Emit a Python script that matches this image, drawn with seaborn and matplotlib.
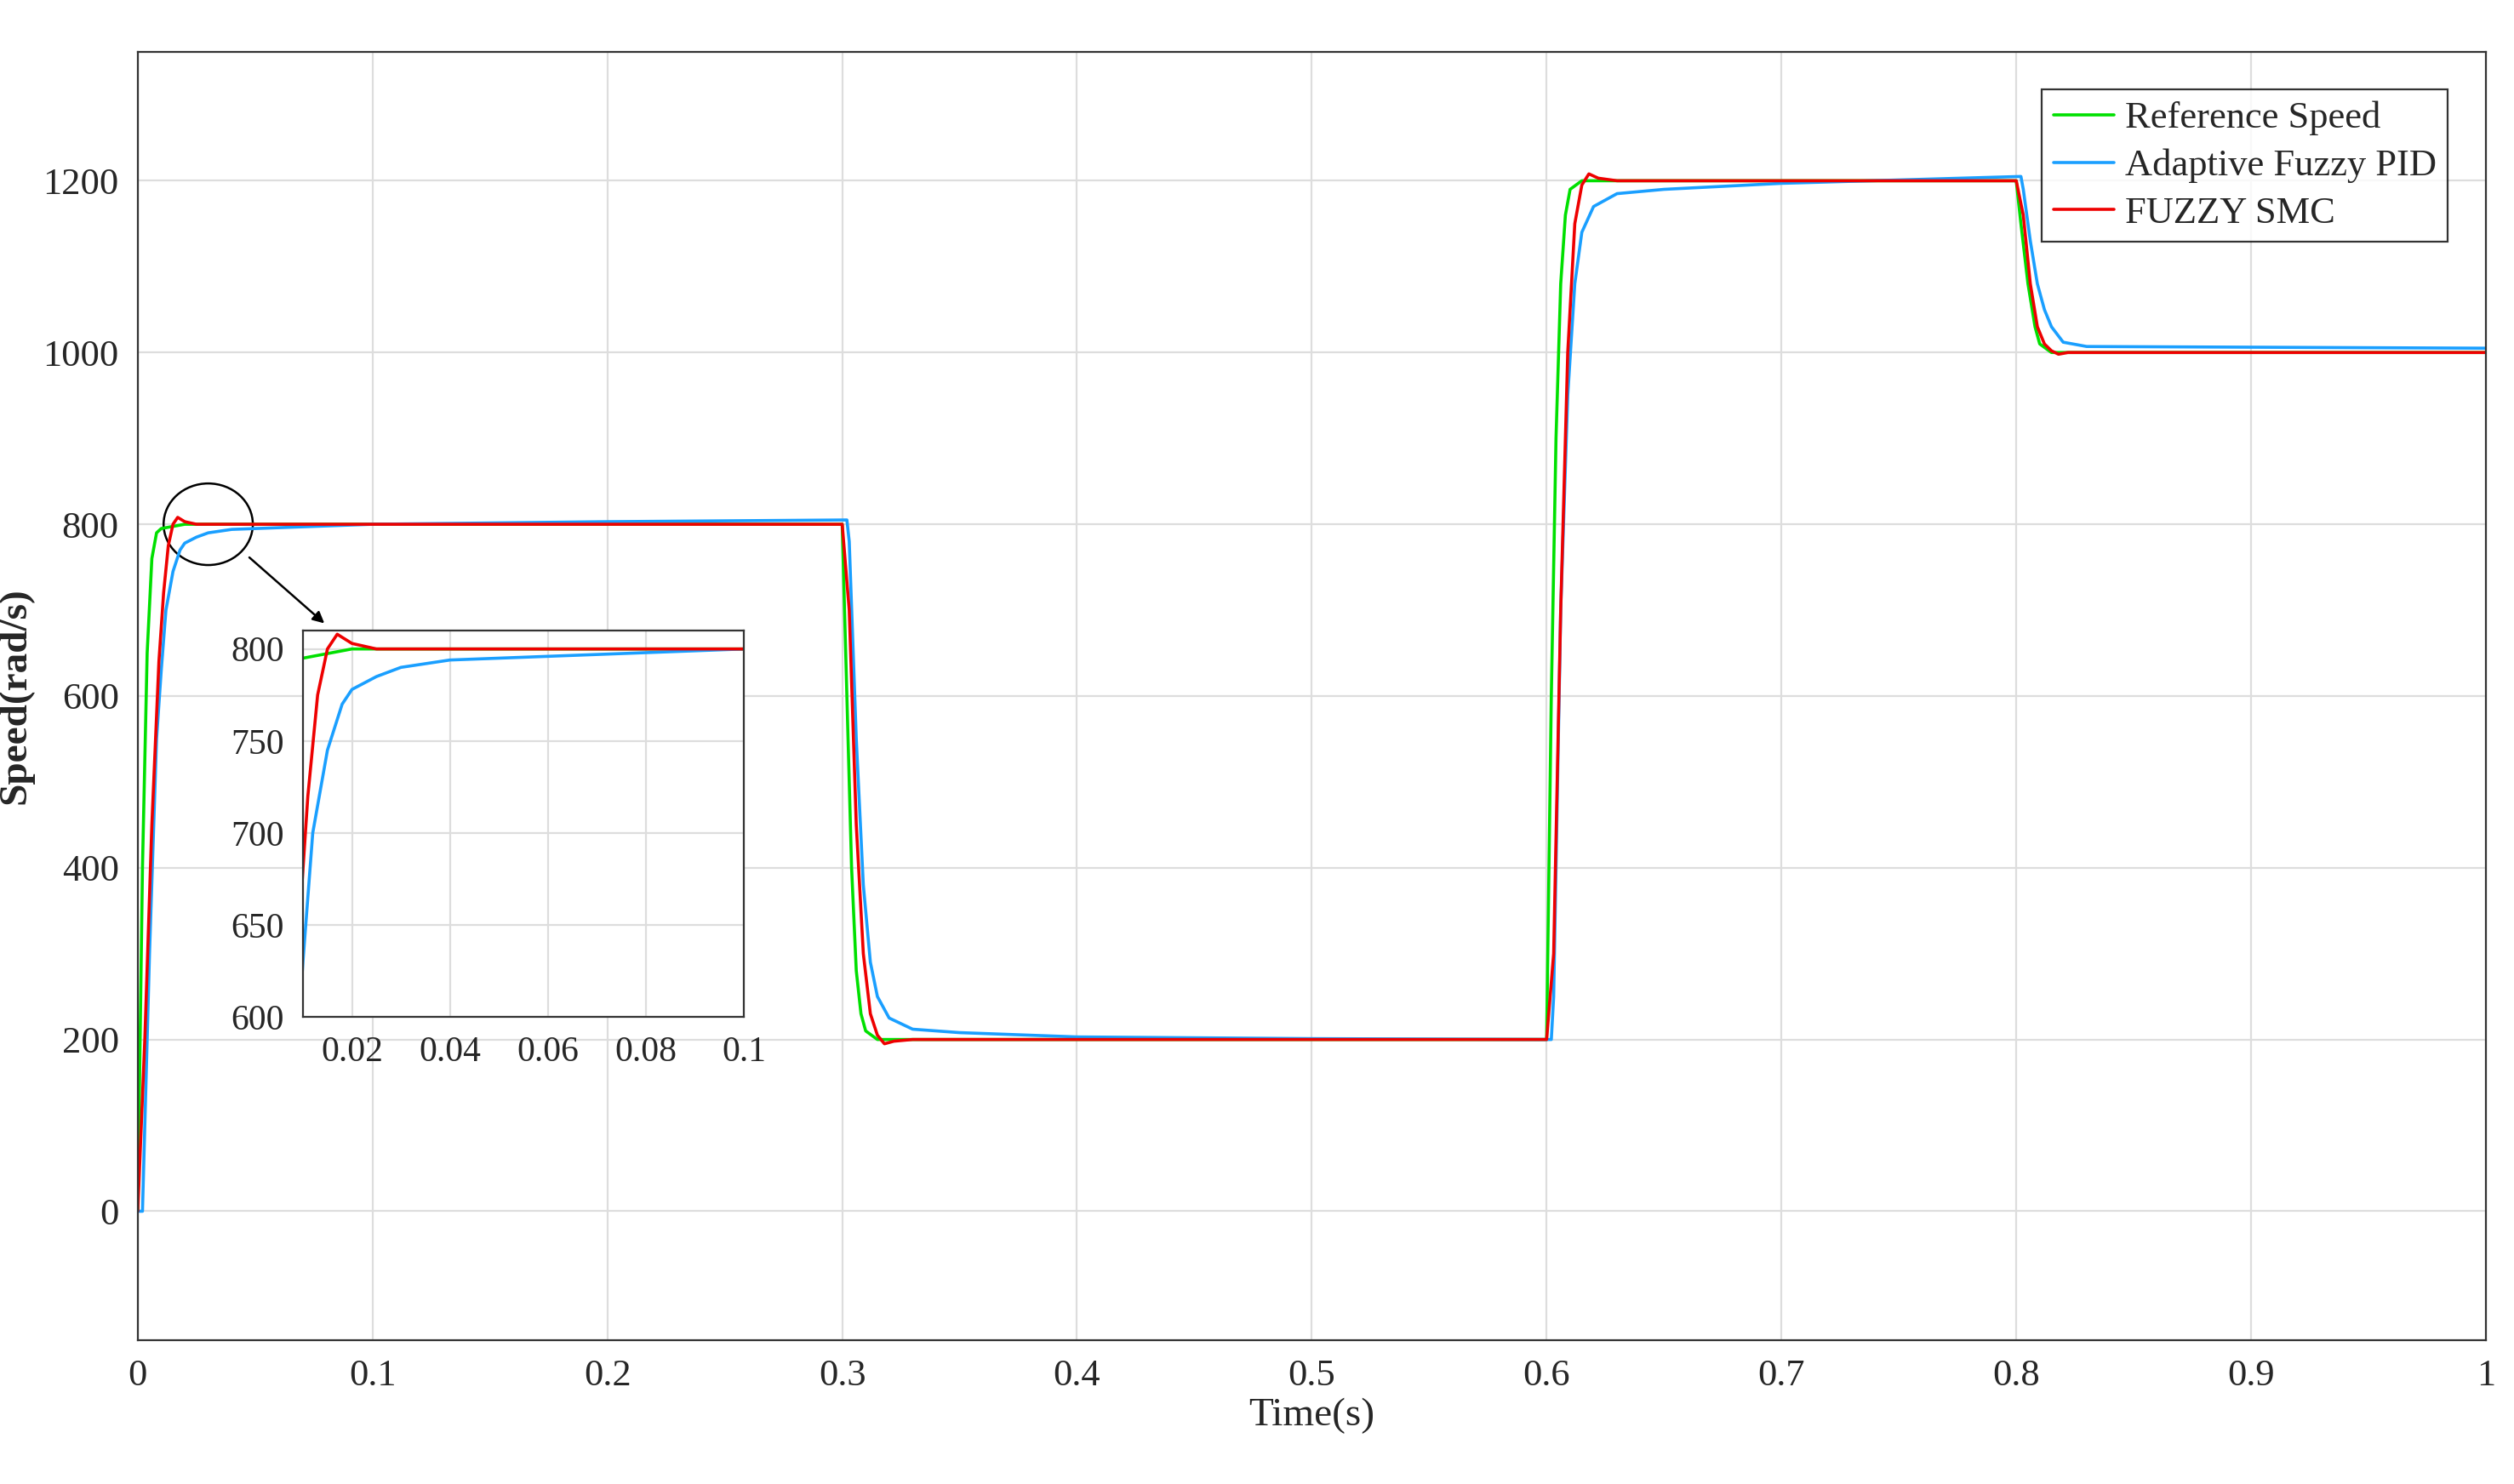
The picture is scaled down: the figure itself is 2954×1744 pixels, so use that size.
import matplotlib
matplotlib.use("Agg")
import matplotlib.pyplot as plt
import seaborn as sns
import pandas as pd
from matplotlib.patches import Ellipse

ref_t = [0,0.002,0.004,0.006,0.008,0.010,0.02,0.3,0.302,0.304,0.306,0.308,0.31,0.315,0.6,0.602,0.604,0.606,0.608,0.61,0.615,0.8,0.802,0.805,0.808,0.81,0.815,1.0]
ref_v = [0,400,650,760,790,795,800,800,600,400,280,230,210,200,200,600,900,1080,1160,1190,1200,1200,1150,1080,1030,1010,1000,1000]

smc_t = [0,0.003,0.006,0.009,0.011,0.013,0.015,0.017,0.020,0.025,0.3,0.303,0.306,0.309,0.312,0.315,0.318,0.322,0.33,0.6,0.603,0.606,0.609,0.612,0.615,0.618,0.622,0.63,0.8,0.803,0.806,0.809,0.812,0.815,0.818,0.822,0.83,1.0]
smc_v = [0,200,450,640,720,775,800,808,803,800,800,700,450,300,230,205,195,198,200,200,300,700,1000,1150,1195,1208,1203,1200,1200,1160,1080,1030,1010,1002,998,1000,1000,1000]

pid_t = [0,0.002,0.005,0.008,0.01,0.012,0.015,0.018,0.02,0.025,0.03,0.04,0.06,0.1,0.2,0.302,0.303,0.306,0.309,0.312,0.315,0.32,0.33,0.35,0.4,0.5,0.6,0.602,0.603,0.606,0.609,0.612,0.615,0.62,0.63,0.65,0.7,0.802,0.803,0.806,0.809,0.812,0.815,0.82,0.83,1.0]
pid_v = [0,0,300,550,630,700,745,770,778,785,790,794,796,800,803,805,780,550,380,290,250,225,212,208,203,201,200,200,250,700,950,1080,1140,1170,1185,1190,1197,1205,1190,1130,1080,1050,1030,1012,1007,1005]

df = pd.concat([
    pd.DataFrame({"t": ref_t, "v": ref_v, "s": "Reference Speed"}),
    pd.DataFrame({"t": pid_t, "v": pid_v, "s": "Adaptive Fuzzy PID"}),
    pd.DataFrame({"t": smc_t, "v": smc_v, "s": "FUZZY SMC"}),
])
pal = {"Reference Speed": "#00e000", "Adaptive Fuzzy PID": "#1a9fff", "FUZZY SMC": "#ee0000"}

sns.set_style("white")
plt.rcParams["font.family"] = ["Liberation Serif", "DejaVu Serif"]
fig = plt.figure(figsize=(14.77, 8.72), dpi=200)
ax = fig.add_axes([0.0548, 0.097, 0.934, 0.868])
sns.lineplot(data=df, x="t", y="v", hue="s", palette=pal, ax=ax, lw=1.3, sort=False, estimator=None)
ax.set_xlim(0, 1)
ax.set_ylim(-150, 1350)
ax.set_xticks([0,0.1,0.2,0.3,0.4,0.5,0.6,0.7,0.8,0.9,1])
ax.set_xticklabels(["0","0.1","0.2","0.3","0.4","0.5","0.6","0.7","0.8","0.9","1"])
ax.set_yticks([0,200,400,600,800,1000,1200])
ax.grid(True, color="#dddddd", lw=0.8)
ax.tick_params(labelsize=16, direction="in", pad=8)
ax.set_xlabel("Time(s)", fontsize=17, labelpad=2)
ax.set_ylabel("Speed(rad/s)", fontsize=17, fontweight="bold")
for s in ax.spines.values():
    s.set_color("#333333"); s.set_linewidth(0.8)
leg = ax.legend(loc="upper right", fontsize=16, frameon=True, fancybox=False,
                edgecolor="black", borderaxespad=1.0, handlelength=1.6, handletextpad=0.3,
                borderpad=0.3, labelspacing=0.35)
leg.get_frame().set_linewidth(0.8)

ax.add_patch(Ellipse((0.03, 800), 0.038, 95, fill=False, ec="black", lw=0.9))
ax.annotate("", xy=(0.081, 681), xytext=(0.046, 765),
            arrowprops=dict(arrowstyle="-|>", color="black", lw=0.9))

ins = fig.add_axes([0.1205, 0.3146, 0.1754, 0.2605])
sns.lineplot(data=df, x="t", y="v", hue="s", palette=pal, ax=ins, lw=1.3, sort=False, estimator=None, legend=False)
ins.set_xlim(0.01, 0.1)
ins.set_ylim(600, 810)
ins.set_xticks([0.02,0.04,0.06,0.08,0.1])
ins.set_xticklabels(["0.02","0.04","0.06","0.08","0.1"])
ins.set_yticks([600,650,700,750,800])
ins.grid(True, color="#dddddd", lw=0.8)
ins.tick_params(labelsize=15, direction="in", pad=8)
ins.set_xlabel(""); ins.set_ylabel("")
for s in ins.spines.values():
    s.set_color("#333333"); s.set_linewidth(0.8)

fig.savefig("out.png", dpi=200)
